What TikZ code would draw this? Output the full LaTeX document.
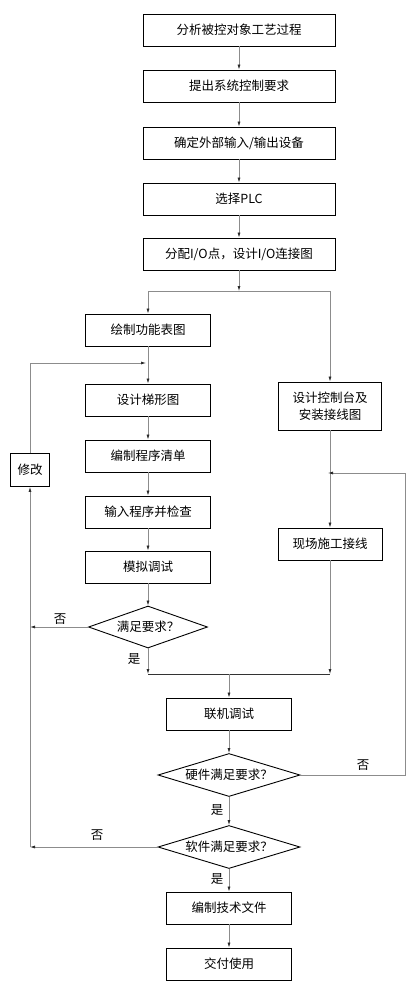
\documentclass[tikz,border=0pt]{standalone}
\usepackage{fontspec}
\usepackage{tikz}
\usetikzlibrary{shapes.geometric,arrows.meta}
\newfontfamily\cjk{Noto Sans CJK SC}
\definecolor{linegray}{RGB}{140,140,140}

\begin{document}
\begin{tikzpicture}[x=1pt,y=-1pt,
        every node/.style={font=\cjk\fontsize{12.5}{15}\selectfont},
        box/.style={draw, line width=0.9pt, inner sep=0pt, minimum width=125pt, minimum height=32pt, align=center},
        wide/.style={box, minimum width=192pt},
        check/.style={draw, line width=0.9pt, shape=diamond, inner sep=0pt, aspect=2.8, minimum width=142pt, minimum height=43pt},
        flow/.style={draw=linegray, line width=0.7pt, -{Latex[length=5pt,width=3pt,color=black!85]}},
        plain/.style={draw=linegray, line width=0.7pt}]
        \useasboundingbox (0,0) rectangle (420,1001);

        \node[wide] (b1) at (239,30) {分析被控对象工艺过程};
        \node[wide] (b2) at (239,86) {提出系统控制要求};
        \node[wide] (b3) at (239,143) {确定外部输入/输出设备};
        \node[wide] (b4) at (239,199) {选择PLC};
        \node[wide] (b5) at (239,254) {分配I/O点，设计I/O连接图};

        \node[box] (l1) at (148,330) {绘制功能表图};
        \node[box] (l2) at (148,400) {设计梯形图};
        \node[box] (l3) at (148,456) {编制程序清单};
        \node[box] (l4) at (148,512) {输入程序并检查};
        \node[box] (l5) at (148,567) {模拟调试};
        \node[check, minimum width=119pt, minimum height=42pt] (d1) at (148,627) {满足要求？};

        \node[box, minimum width=103pt, minimum height=48pt, font=\cjk\fontsize{12.5}{17}\selectfont] (r1) at (330,406) {设计控制台及\\安装接线图};
        \node[box, minimum width=104pt] (r2) at (330,544) {现场施工接线};

        \node[box, minimum width=39pt, minimum height=33pt] (fix) at (30,470) {修改};

        \node[box] (c1) at (229,714) {联机调试};
        \node[check] (d2) at (229,775) {硬件满足要求？};
        \node[check] (d3) at (229,847) {软件满足要求？};
        \node[box] (c2) at (229,908) {编制技术文件};
        \node[box] (c3) at (229,964) {交付使用};

        \coordinate (split) at (239,291);
        \coordinate (mergeL) at (148,674);
        \coordinate (mergeR) at (330,674);
        \coordinate (mergeC) at (229,674);
        \coordinate (backL) at (148,363);
        \coordinate (backR) at (330,473);
        \coordinate (sideL) at (30,847);

        \foreach \a/\b in {b1/b2, b2/b3, b3/b4, b4/b5, l1/l2, l2/l3, l3/l4, l4/l5, l5/d1, r1/r2, c1/d2, d2/d3, d3/c2, c2/c3}
            \draw[flow] (\a) -- (\b);

        \draw[flow] (b5) -- (split);
        \draw[flow] (split) -| (l1);
        \draw[flow] (split) -| (r1);

        \draw[flow] (d1.west) -- (30,627);
        \draw[flow] (d1.south) -- (mergeL);
        \draw[flow] (r2.south) -- (mergeR);
        \draw[line width=0.8pt, black!80] (mergeL) -- (mergeR);
        \draw[flow] (mergeC) -- (c1);

        \draw[plain] (d2.east) -- (405,775) -- (405,473);
        \draw[flow] (405,473) -- ([xshift=-2pt]backR);

        \draw[flow] (d3.west) -- (sideL);
        \draw[flow] (sideL) -- (fix.south);
        \draw[plain] (fix.north) -- (30,363);
        \draw[flow] (30,363) -- ([xshift=-2pt]backL);

        \node (no1) at (60,619) {否};
        \node (yes1) at (134,659) {是};
        \node (no2) at (363,765) {否};
        \node (yes2) at (217,810) {是};
        \node (no3) at (97,835) {否};
        \node (yes3) at (217,879) {是};
    \end{tikzpicture}
\end{document}
